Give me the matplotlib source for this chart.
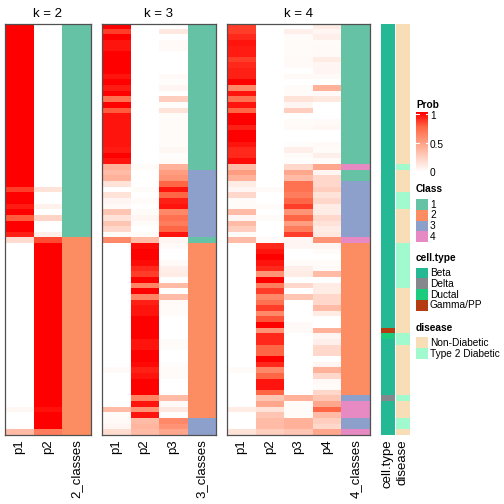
import numpy as np
import matplotlib
matplotlib.use('Agg')
import matplotlib.pyplot as plt
from matplotlib.colors import LinearSegmentedColormap, to_rgb
from matplotlib.patches import Rectangle

plt.rcParams['font.family'] = ['Liberation Sans', 'DejaVu Sans']

# membership probabilities, one value per sample (73 samples, top to bottom)
k2_p1 = [1.0] * 29 + [0.85, 1.0, 1.0, 0.93, 1.0, 0.78, 1.0, 1.0, 0.92, 0.18] + [0.0] * 29 + [0.04, 0.0, 0.0, 0.0, 0.35]
k2_p2 = [0.0] * 29 + [0.15, 0.0, 0.0, 0.07, 0.0, 0.22, 0.0, 0.0, 0.08, 0.82] + [1.0] * 29 + [0.96, 1.0, 1.0, 1.0, 0.65]
k2_class = [1] * 38 + [2] * 35

k3_p1 = [1.0, 0.85, 1.0, 0.95, 0.95, 1.0, 1.0, 1.0, 1.0, 0.95, 1.0, 0.93, 1.0, 0.7, 1.0, 0.78,
         0.95, 0.95, 0.95, 0.95, 0.95, 0.95, 0.93, 1.0, 0.95, 0.4, 0.35, 0.4, 0.15, 0.0, 0.15, 0.05,
         0.03, 0.3, 0.15, 0.3, 0.2, 0.02, 0.6, 0.0, 0.0, 0.0, 0.0, 0.0, 0.0, 0.0, 0.0, 0.0, 0.0,
         0.0, 0.0, 0.0, 0.0, 0.0, 0.0, 0.0, 0.0, 0.0, 0.0, 0.0, 0.0, 0.03, 0.0, 0.0, 0.0, 0.0, 0.0,
         0.0, 0.35, 0.02, 0.03, 0.05, 0.18]
k3_p2 = [0.0] * 25 + [0.02, 0.0, 0.0, 0.0, 0.02, 0.0, 0.02, 0.0, 0.02, 0.05, 0.02, 0.0, 0.02, 0.35,
         0.97, 1.0, 1.0, 0.97, 0.9, 0.85, 1.0, 0.62, 1.0, 0.62, 0.92, 0.95, 0.95, 1.0, 1.0, 1.0,
         1.0, 0.95, 0.95, 1.0, 1.0, 0.98, 0.92, 0.95, 1.0, 1.0, 1.0, 0.62, 0.95, 0.55, 0.95, 0.35,
         0.38, 0.35]
k3_p3 = [0.0, 0.12, 0.0, 0.03, 0.03, 0.0, 0.0, 0.0, 0.0, 0.03, 0.01, 0.05, 0.0, 0.25, 0.01, 0.15,
         0.02, 0.02, 0.02, 0.02, 0.02, 0.02, 0.04, 0.01, 0.02, 0.4, 0.5, 0.55, 0.75, 0.95, 0.75, 0.92,
         0.95, 0.6, 0.7, 0.65, 0.75, 0.95, 0.05, 0.03, 0.0, 0.0, 0.03, 0.08, 0.1, 0.0, 0.35, 0.0,
         0.35, 0.03, 0.02, 0.02, 0.0, 0.0, 0.0, 0.0, 0.02, 0.02, 0.0, 0.0, 0.01, 0.02, 0.02, 0.0,
         0.0, 0.0, 0.35, 0.03, 0.12, 0.01, 0.6, 0.55, 0.45]
k3_class = [1] * 26 + [3] * 12 + [1] + [2] * 31 + [3] * 3

k4_p1 = [0.85, 0.85, 0.9, 0.95, 0.93, 0.93, 0.85, 0.9, 0.92, 0.92, 1.0, 0.6, 0.95, 0.7, 0.95, 0.75,
         1.0, 1.0, 0.92, 1.0, 1.0, 0.95, 0.9, 0.9, 0.97, 0.35, 0.5, 0.4, 0.1, 0.05, 0.2, 0.02,
         0.02, 0.35, 0.05, 0.35, 0.25, 0.02, 0.35] + [0.0] * 22 + [0.02, 0.0, 0.0, 0.0, 0.0, 0.0,
         0.0, 0.1, 0.0, 0.0, 0.0, 0.15]
k4_p2 = [0.0] * 29 + [0.03, 0.0, 0.0, 0.02, 0.0, 0.02, 0.0, 0.0, 0.0, 0.03,
         0.9, 0.95, 1.0, 0.95, 0.9, 0.55, 1.0, 0.65, 0.85, 0.6, 0.7, 0.85, 0.6, 0.8, 1.0, 0.55,
         0.9, 0.9, 0.75, 0.75, 1.0, 0.9, 0.6, 0.75, 0.95, 0.95, 0.75, 0.3, 0.45, 0.15, 0.3, 0.35,
         0.35, 0.25]
k4_p3 = [0.0, 0.08, 0.02, 0.02, 0.02, 0.02, 0.03, 0.03, 0.0, 0.03, 0.0, 0.02, 0.02, 0.15, 0.05, 0.25,
         0.0, 0.02, 0.03, 0.0, 0.0, 0.01, 0.08, 0.02, 0.01, 0.2, 0.45, 0.35, 0.7, 0.7, 0.65, 0.75,
         0.85, 0.55, 0.75, 0.5, 0.65, 0.85, 0.05, 0.05, 0.0, 0.0, 0.02, 0.08, 0.1, 0.0, 0.2, 0.0,
         0.3, 0.0, 0.0, 0.0, 0.0, 0.03, 0.03, 0.0, 0.0, 0.0, 0.0, 0.0, 0.0, 0.0, 0.0, 0.0, 0.0,
         0.0, 0.4, 0.02, 0.02, 0.02, 0.4, 0.4, 0.3]
k4_p4 = [0.1, 0.05, 0.08, 0.02, 0.03, 0.03, 0.1, 0.05, 0.05, 0.03, 0.0, 0.4, 0.03, 0.12, 0.0, 0.0,
         0.0, 0.03, 0.04, 0.0, 0.0, 0.03, 0.02, 0.08, 0.02, 0.45, 0.05, 0.2, 0.2, 0.25, 0.15, 0.2,
         0.1, 0.1, 0.2, 0.15, 0.1, 0.12, 0.55, 0.05, 0.02, 0.0, 0.02, 0.03, 0.35, 0.0, 0.1, 0.1,
         0.2, 0.2, 0.35, 0.1, 0.0, 0.0, 0.4, 0.05, 0.08, 0.2, 0.2, 0.0, 0.05, 0.4, 0.2, 0.03, 0.02,
         0.2, 0.3, 0.45, 0.75, 0.35, 0.25, 0.2, 0.45]
k4_class = [1] * 25 + [4] + [1] * 2 + [3] * 10 + [4] + [2] * 27 + [3] + [4] * 3 + [3] * 2 + [4]

cell_type = ['Beta'] * 54 + ['Gamma/PP', 'Ductal'] + ['Beta'] * 10 + ['Delta'] + ['Beta'] * 6
disease = (['Non-Diabetic'] * 25 + ['Type 2 Diabetic'] + ['Non-Diabetic'] * 4 + ['Type 2 Diabetic'] * 3
           + ['Non-Diabetic'] * 6 + ['Type 2 Diabetic'] * 8 + ['Non-Diabetic'] * 8 + ['Type 2 Diabetic'] * 2
           + ['Non-Diabetic'] * 9 + ['Type 2 Diabetic'] + ['Non-Diabetic'] * 3 + ['Type 2 Diabetic'] * 2
           + ['Non-Diabetic'])

class_levels = [1, 2, 3, 4]
class_colors = {1: '#66C2A5', 2: '#FC8D62', 3: '#8DA0CB', 4: '#E78AC3'}
cell_levels = ['Beta', 'Delta', 'Ductal', 'Gamma/PP']
cell_colors = {'Beta': '#25B894', 'Delta': '#84888D', 'Ductal': '#1BCC7F', 'Gamma/PP': '#B53C10'}
disease_levels = ['Non-Diabetic', 'Type 2 Diabetic']
disease_colors = {'Non-Diabetic': '#F7DEB7', 'Type 2 Diabetic': '#A0FACD'}

prob_cmap = LinearSegmentedColormap.from_list(
    'prob', ['#FFFFFF', '#FFCFBF', '#FF9E81', '#FF6846', '#FF0000'])

W = H = 504
TOP, BOT = 24, 435.3
fig = plt.figure(figsize=(5.04, 5.04), dpi=100)


def px_axes(x0, y0, x1, y1):
    return fig.add_axes([x0 / W, 1 - y1 / H, (x1 - x0) / W, (y1 - y0) / H])


def heat(x0, x1, probs, classes, k):
    ax = px_axes(x0, TOP, x1, BOT)
    n = len(classes)
    img = np.zeros((n, len(probs) + 1, 3))
    for j, p in enumerate(probs):
        img[:, j, :] = prob_cmap(np.array(p))[:, :3]
    img[:, -1, :] = [to_rgb(class_colors[c]) for c in classes]
    ax.imshow(img, aspect='auto', interpolation='nearest')
    names = ['p%d' % (j + 1) for j in range(len(probs))] + ['%d_classes' % k]
    ax.set_xticks(range(len(names)))
    ax.set_xticklabels(names, rotation=90, fontsize=9.5, va='top')
    ax.set_yticks([])
    ax.tick_params(length=0, pad=3)
    ax.set_title('k = %d' % k, fontsize=9.5, pad=5)
    for s in ax.spines.values():
        s.set_color('#505050')
        s.set_linewidth(0.9)


heat(5, 90.7, [k2_p1, k2_p2], k2_class, 2)
heat(101.7, 216, [k3_p1, k3_p2, k3_p3], k3_class, 3)
heat(227.3, 370, [k4_p1, k4_p2, k4_p3, k4_p4], k4_class, 4)


def annot(x0, x1, values, colors, name):
    ax = px_axes(x0, TOP, x1, BOT)
    img = np.array([[to_rgb(colors[v])] for v in values])
    ax.imshow(img, aspect='auto', interpolation='nearest')
    ax.set_xticks([0])
    ax.set_xticklabels([name], rotation=90, fontsize=9.5, va='top')
    ax.set_yticks([])
    ax.tick_params(length=0, pad=3)
    for s in ax.spines.values():
        s.set_visible(False)


annot(381, 395, cell_type, cell_colors, 'cell.type')
annot(396, 410, disease, disease_colors, 'disease')

# legends, drawn in pixel coordinates
lg = fig.add_axes([0, 0, 1, 1])
lg.set_xlim(0, W)
lg.set_ylim(H, 0)
lg.axis('off')

LX = 416
lg.text(LX, 105, 'Prob', fontsize=7.3, fontweight='bold', va='center', ha='left')
grad = np.linspace(1, 0, 100).reshape(-1, 1)
lg.imshow(grad, cmap=prob_cmap, vmin=0, vmax=1, aspect='auto',
          extent=[LX, LX + 12, 172.5, 113], zorder=1)
for v, lab in [(1, '1'), (0.5, '0.5'), (0, '0')]:
    yy = 172 - v * 57.7
    lg.plot([LX, LX + 2.5], [yy, yy], color='white', lw=0.8, zorder=2)
    lg.plot([LX + 9.5, LX + 12], [yy, yy], color='white', lw=0.8, zorder=2)
    lg.text(LX + 14, yy + 1.5, lab, fontsize=7.3, va='center', ha='left')


def legend_block(title, ty, levels, colors, start):
    lg.text(LX, ty, title, fontsize=7.3, fontweight='bold', va='center', ha='left')
    for i, lev in enumerate(levels):
        y0 = start + i * 10.8
        lg.add_patch(Rectangle((LX, y0), 12, 10.8, facecolor=colors[lev], edgecolor='none'))
        lg.text(LX + 14, y0 + 5.6, str(lev), fontsize=7.3, va='center', ha='left')


legend_block('Class', 189.5, class_levels, class_colors, 199)
legend_block('cell.type', 258, cell_levels, cell_colors, 267.5)
legend_block('disease', 328, disease_levels, disease_colors, 337.3)

lg.set_xlim(0, W)
lg.set_ylim(H, 0)

fig.savefig('out.png', dpi=100)
